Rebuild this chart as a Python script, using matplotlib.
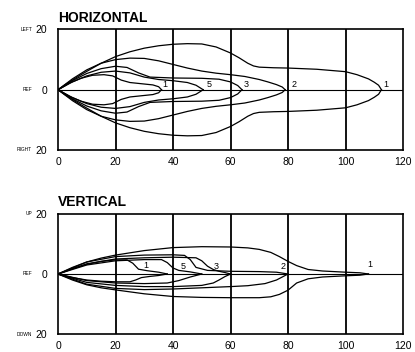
#!/usr/bin/env python3
import matplotlib
matplotlib.use("Agg")
from matplotlib import pyplot as plt
from matplotlib import transforms

plt.rcParams['font.family'] = ['Liberation Sans', 'DejaVu Sans']

# horizontal panel: half-width of each contour (mirrored about REF line)
h_labels = ["1", "5", "3", "2", "1"]
h_label_x = [37, 52.5, 65.5, 82, 114]
h_x = [
    [0, 4, 8, 12, 16, 19, 22, 25, 29, 33, 35, 36],
    [0, 5, 10, 15, 20, 25, 30, 35, 40, 45, 48, 50.5],
    [0, 5, 10, 15, 20, 24, 28, 32, 40, 50, 56, 60, 62.5, 64],
    [0, 5, 10, 15, 20, 25, 30, 35, 40, 45, 50, 55, 60, 65, 70, 73, 76, 78, 79],
    [0, 2.5, 5, 7.5, 10, 15, 20, 25, 30, 35, 40, 45, 50, 55, 60, 63, 66, 68,
     70, 75, 80, 90, 100, 104, 108, 110, 111.5, 112.5],
]
h_y = [
    [0, 2.2, 3.8, 4.8, 5.0, 4.6, 3.2, 2.4, 2.0, 1.6, 1.0, 0],
    [0, 2.6, 4.6, 5.8, 6.2, 5.6, 4.2, 3.4, 3.0, 2.4, 1.5, 0],
    [0, 3.0, 5.4, 7.0, 7.8, 7.4, 5.6, 4.2, 3.9, 3.8, 3.5, 2.6, 1.4, 0],
    [0, 3.6, 6.6, 8.8, 10.0, 10.5, 10.4, 9.6, 8.4, 7.2, 6.2, 5.5, 5.0, 4.4,
     3.4, 2.6, 1.7, 0.9, 0],
    [0, 1.7, 3.2, 4.7, 6.1, 8.8, 11.0, 12.6, 13.8, 14.6, 15.1, 15.3, 15.2,
     14.2, 12.2, 10.6, 8.8, 7.9, 7.5, 7.3, 7.2, 6.8, 6.0, 5.0, 3.6, 2.5, 1.5, 0],
]

# vertical panel: upper and lower edge of each contour
v_labels = ["1", "5", "3", "2", "1"]
v_label_pos = [(30.5, 2.8), (43.5, 2.5), (55, 2.4), (78.3, 2.4), (108.5, 3.0)]
v_up_x = [
    [0, 5, 10, 15, 20, 24, 26, 28, 31, 35, 38],
    [0, 10, 20, 30, 36, 38, 40, 42, 46, 50],
    [0, 10, 20, 30, 40, 48, 50, 52, 54, 56, 58, 60],
    [0, 10, 20, 30, 40, 44, 46, 48, 52, 60, 70, 76, 80],
    [0, 5, 10, 15, 20, 30, 40, 50, 60, 66, 70, 74, 77, 80, 83, 87, 92, 100, 105, 108],
]
v_up_y = [
    [0, 1.8, 3.2, 4.2, 4.7, 4.7, 3.6, 1.6, 1.1, 0.6, 0],
    [0, 3.0, 4.4, 4.8, 4.8, 3.8, 2.0, 1.2, 0.7, 0],
    [0, 3.4, 5.0, 5.4, 5.6, 5.4, 4.4, 2.6, 1.5, 0.9, 0.5, 0],
    [0, 4.0, 5.8, 6.3, 6.4, 6.2, 4.8, 2.2, 1.2, 0.9, 0.8, 0.6, 0],
    [0, 2.2, 4.0, 5.3, 6.3, 7.8, 8.8, 9.1, 9.0, 8.7, 8.2, 7.2, 5.8, 4.2, 2.8, 1.5, 1.0, 0.6, 0.4, 0],
]
v_lo_x = [
    [0, 5, 10, 15, 20, 25, 27, 29, 32, 35, 38],
    [0, 10, 20, 30, 38, 42, 46, 50],
    [0, 10, 20, 30, 40, 50, 54, 56, 58, 60],
    [0, 10, 20, 30, 40, 50, 60, 66, 72, 76, 78, 80],
    [0, 5, 10, 15, 20, 30, 40, 50, 60, 70, 74, 77, 80, 83, 87, 92, 100, 105, 108],
]
v_lo_y = [
    [0, -1.2, -2.0, -2.4, -2.6, -2.6, -2.0, -1.2, -0.8, -0.5, 0],
    [0, -2.2, -3.0, -3.2, -3.0, -2.2, -1.0, 0],
    [0, -2.8, -3.8, -4.2, -4.2, -3.8, -3.0, -2.0, -0.9, 0],
    [0, -3.4, -4.8, -5.2, -5.0, -4.6, -4.2, -3.9, -3.2, -2.0, -1.0, 0],
    [0, -2.0, -3.6, -4.6, -5.3, -6.6, -7.5, -7.8, -7.9, -7.9, -7.6, -6.8, -5.4, -3.0, -1.6, -1.0, -0.6, -0.4, 0],
]

x_ticks = [0, 20, 40, 60, 80, 100, 120]
grid_x = [20, 40, 60, 80, 100]
h_side_words = ["LEFT", "REF", "RIGHT"]
v_side_words = ["UP", "REF", "DOWN"]


def setup_axes(ax, title, side_words):
    ax.set_xlim(0, 120)
    ax.set_ylim(-20, 20)
    for gx in grid_x:
        ax.axvline(gx, color='black', lw=1.3, zorder=1)
    ax.axhline(0, color='black', lw=0.8, zorder=1)
    for sp in ax.spines.values():
        sp.set_linewidth(1.2)
    ax.set_xticks(x_ticks)
    ax.set_yticks([20, 0, -20])
    ax.set_yticklabels(["20", "0", "20"])
    ax.tick_params(length=0, labelsize=7.5, pad=5)
    ax.tick_params(axis='y', pad=8)
    trans = transforms.blended_transform_factory(ax.transAxes, ax.transData)
    for word, yv in zip(side_words, [20, 0, -20]):
        ax.text(-0.075, yv, word, fontsize=3.5, ha='right', va='center',
                transform=trans)
    ax.text(0.0, 1.04, title, transform=ax.transAxes, fontsize=10,
            fontweight='bold', ha='left', va='bottom')


fig = plt.figure(figsize=(4.15, 3.52), dpi=100)
ax_h = fig.add_axes([0.1398, 0.5739, 0.8313, 0.3423])
ax_v = fig.add_axes([0.1398, 0.0511, 0.8313, 0.3410])

setup_axes(ax_h, "HORIZONTAL", h_side_words)
for xs, ys in zip(h_x, h_y):
    ax_h.plot(xs, ys, color='black', lw=0.9, zorder=2)
    ax_h.plot(xs, [-v for v in ys], color='black', lw=0.9, zorder=2)
for lab, lx in zip(h_labels, h_label_x):
    ax_h.text(lx, 1.6, lab, fontsize=6.5, ha='center', va='center')

setup_axes(ax_v, "VERTICAL", v_side_words)
for ux, uy, lx, ly in zip(v_up_x, v_up_y, v_lo_x, v_lo_y):
    ax_v.plot(ux, uy, color='black', lw=0.9, zorder=2)
    ax_v.plot(lx, ly, color='black', lw=0.9, zorder=2)
for lab, (px, py) in zip(v_labels, v_label_pos):
    ax_v.text(px, py, lab, fontsize=6.5, ha='center', va='center')

fig.savefig("out.png", dpi=100)
